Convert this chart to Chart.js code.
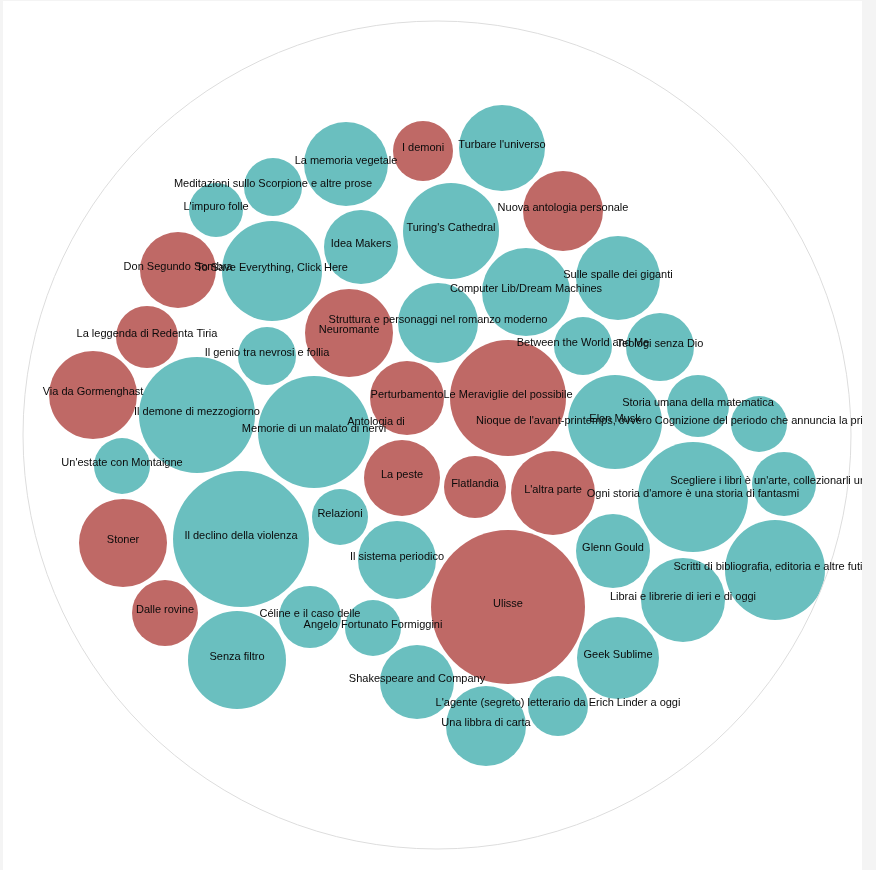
<!DOCTYPE html>
<html>
<head>
<meta charset="utf-8">
<script src="https://cdn.jsdelivr.net/npm/chart.js@4"></script>
<style>
  html, body { margin: 0; padding: 0; background: #f4f4f4; }
  #wrap { position: absolute; left: 3px; top: 1px; width: 859px; height: 869px; background: #fff; }
</style>
</head>
<body>
<div id="wrap"><canvas id="bubbles" width="859" height="869"></canvas></div>
<script>
// books: title, centre x, centre y, radius, kind (R = red, T = teal)
const titles = [
  "Turbare l'universo", "I demoni", "La memoria vegetale", "Meditazioni sullo Scorpione e altre prose",
  "L'impuro folle", "Nuova antologia personale", "Turing's Cathedral", "Idea Makers",
  "To Save Everything, Click Here", "Don Segundo Sombra", "Sulle spalle dei giganti", "Computer Lib/Dream Machines",
  "Struttura e personaggi nel romanzo moderno", "Neuromante", "La leggenda di Redenta Tiria", "Il genio tra nevrosi e follia",
  "Between the World and Me", "Teologi senza Dio", "Via da Gormenghast", "Il demone di mezzogiorno",
  "Memorie di un malato di nervi", "Perturbamento", "Le Meraviglie del possibile", "Antologia di",
  "Elon Musk", "Storia umana della matematica", "Nioque de l'avant-printemps, ovvero Cognizione del periodo che annuncia la primavera - Con testo francese a fronte", "Un'estate con Montaigne",
  "La peste", "Flatlandia", "L'altra parte", "Scegliere i libri è un'arte, collezionarli una follia",
  "Ogni storia d'amore è una storia di fantasmi", "Stoner", "Il declino della violenza", "Relazioni",
  "Il sistema periodico", "Glenn Gould", "Scritti di bibliografia, editoria e altre futilità", "Librai e librerie di ieri e di oggi",
  "Dalle rovine", "Céline e il caso delle", "Angelo Fortunato Formiggini", "Ulisse",
  "Senza filtro", "Geek Sublime", "Shakespeare and Company", "L'agente (segreto) letterario da Erich Linder a oggi",
  "Una libbra di carta"
];
const xs = [
  502, 423, 346, 273, 216, 563, 451, 361, 272, 178, 618, 526,
  438, 349, 147, 267, 583, 660, 93, 197, 314, 407, 508, 376,
  615, 698, 759, 122, 402, 475, 553, 784, 693, 123, 241, 340,
  397, 613, 775, 683, 165, 310, 373, 508, 237, 618, 417, 558,
  486
];
const ys = [
  148, 151, 164, 187, 210, 211, 231, 247, 271, 270, 278, 292,
  323, 333, 337, 356, 346, 347, 395, 415, 432, 398, 398, 425,
  422, 406, 424, 466, 478, 487, 493, 484, 497, 543, 539, 517,
  560, 551, 570, 600, 613, 617, 628, 607, 660, 658, 682, 706,
  726
];
const rs = [
  43, 30, 42, 29, 27, 40, 48, 37, 50, 38, 42, 44,
  40, 44, 31, 29, 29, 34, 44, 58, 56, 37, 58, 0,
  47, 31, 28, 28, 38, 31, 42, 32, 55, 44, 68, 28,
  39, 37, 50, 42, 33, 31, 28, 77, 49, 41, 37, 30,
  40
];
const kinds = [
  'T', 'R', 'T', 'T', 'T', 'R', 'T', 'T', 'T', 'R', 'T', 'T',
  'T', 'R', 'R', 'T', 'T', 'T', 'R', 'T', 'T', 'R', 'R', 'R',
  'T', 'T', 'T', 'T', 'R', 'R', 'R', 'T', 'T', 'R', 'T', 'T',
  'T', 'T', 'T', 'T', 'R', 'T', 'T', 'R', 'T', 'T', 'T', 'T',
  'T'
];
// enclosing circle
const outerX = 437, outerY = 435, outerR = 414;

const colors = { R: '#bf6966', T: '#6abfbf' };

const bookPoints = titles.map((t, i) => ({ x: xs[i], y: ys[i], r: rs[i] }));

const labelPlugin = {
  id: 'labels',
  afterDatasetsDraw(chart) {
    const ctx = chart.ctx;
    const xScale = chart.scales.x;
    const yScale = chart.scales.y;
    ctx.save();
    ctx.font = '11px "Liberation Sans", Arial, sans-serif';
    ctx.fillStyle = '#0a0a0a';
    ctx.textAlign = 'center';
    ctx.textBaseline = 'middle';
    titles.forEach((t, i) => {
      ctx.fillText(t, xScale.getPixelForValue(xs[i]), yScale.getPixelForValue(ys[i]) - 3);
    });
    ctx.restore();
  }
};

new Chart(document.getElementById('bubbles').getContext('2d'), {
  type: 'bubble',
  data: {
    datasets: [{
      data: [{ x: outerX, y: outerY, r: outerR }],
      backgroundColor: 'rgba(0,0,0,0)',
      borderColor: '#dddddd',
      borderWidth: 1
    }, {
      data: bookPoints,
      backgroundColor: kinds.map(k => colors[k]),
      borderWidth: 0
    }]
  },
  options: {
    responsive: false,
    animation: false,
    events: [],
    layout: { padding: 0, autoPadding: false },
    plugins: { legend: { display: false }, tooltip: { enabled: false } },
    scales: {
      x: { display: false, min: 3, max: 862 },
      y: { display: false, min: 1, max: 870, reverse: true }
    }
  },
  plugins: [labelPlugin]
});
</script>
</body>
</html>
